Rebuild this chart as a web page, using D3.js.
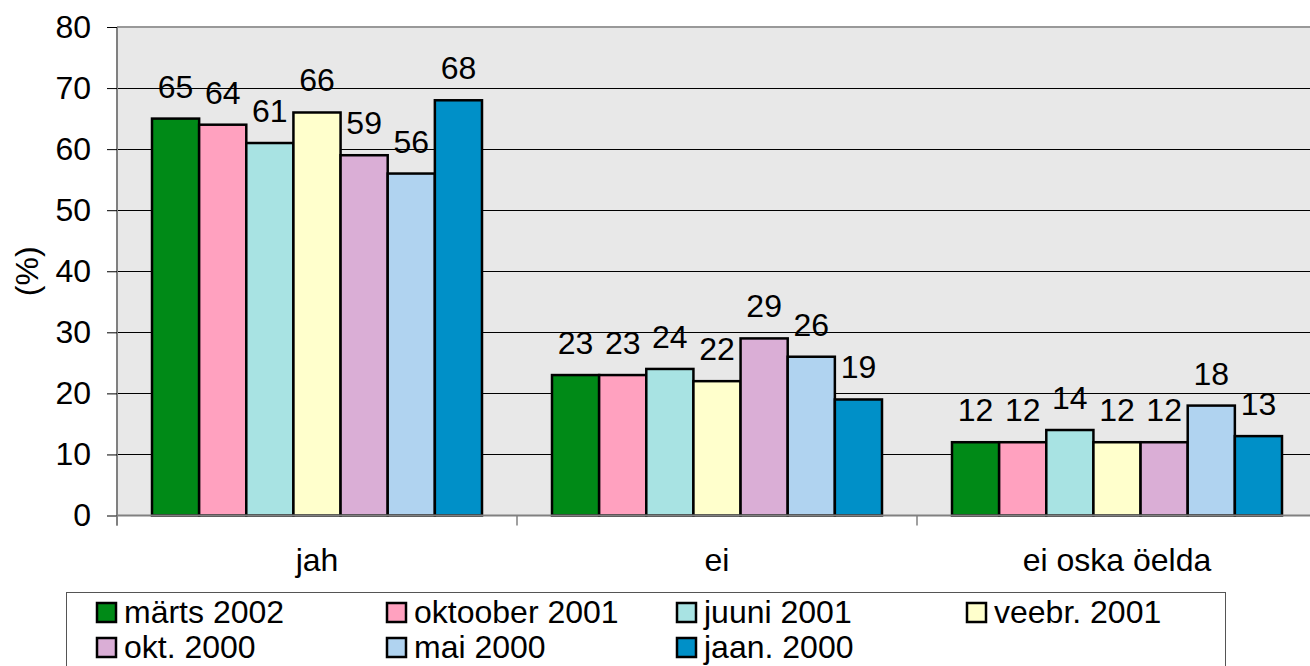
<!DOCTYPE html>
<html>
<head>
<meta charset="utf-8">
<script src="https://cdn.jsdelivr.net/npm/d3@7"></script>
<style>
  html, body { margin: 0; padding: 0; background: #fff; }
  svg { display: block; font-family: "Liberation Sans", Arial, sans-serif; }
</style>
</head>
<body>
<svg id="chart" width="1310" height="666"></svg>
<script>
const categories = ["jah", "ei", "ei oska öelda"];
const seriesNames = ["märts 2002", "oktoober 2001", "juuni 2001", "veebr. 2001", "okt. 2000", "mai 2000", "jaan. 2000"];
const seriesColors = ["#008A17", "#FFA1BF", "#A8E3E3", "#FFFFCC", "#DAAED6", "#B0D3F0", "#0090C8"];
const values = [
  [65, 23, 12],
  [64, 23, 12],
  [61, 24, 14],
  [66, 22, 12],
  [59, 29, 12],
  [56, 26, 18],
  [68, 19, 13]
];
const yTicks = [0, 10, 20, 30, 40, 50, 60, 70, 80];
const yTitle = "(%)";

const svg = d3.select("#chart");
const plotLeft = 117, plotTop = 27, plotBottom = 515.5, catW = 400;
const plotRight = plotLeft + catW * categories.length;
const FS = 32;

const x0 = d3.scaleBand().domain(categories).range([plotLeft, plotRight]).padding(0);
const x1 = d3.scaleBand().domain(seriesNames).range([35, catW - 35]).padding(0);
const y = d3.scaleLinear().domain([0, 80]).range([plotBottom, plotTop]);

svg.append("rect")
  .attr("x", plotLeft).attr("y", plotTop)
  .attr("width", plotRight - plotLeft).attr("height", plotBottom - plotTop)
  .attr("fill", "#E8E8E8");

svg.append("g").selectAll("line")
  .data(yTicks.filter(d => d > 0 && d < 80))
  .join("line")
  .attr("x1", plotLeft).attr("x2", plotRight)
  .attr("y1", d => Math.round(y(d)) + 0.5).attr("y2", d => Math.round(y(d)) + 0.5)
  .attr("stroke", "#000").attr("stroke-width", 1);

svg.append("line")
  .attr("x1", plotLeft).attr("x2", plotRight)
  .attr("y1", y(80)).attr("y2", y(80))
  .attr("stroke", "#999").attr("stroke-width", 2);

const groups = svg.append("g").selectAll("g")
  .data(categories)
  .join("g")
  .attr("transform", c => `translate(${x0(c)},0)`);

groups.selectAll("rect")
  .data((c, ci) => seriesNames.map((s, si) => ({ s, si, v: values[si][ci] })))
  .join("rect")
  .attr("x", d => x1(d.s))
  .attr("y", d => y(d.v))
  .attr("width", x1.bandwidth())
  .attr("height", d => y(0) - y(d.v))
  .attr("fill", d => seriesColors[d.si])
  .attr("stroke", "#000").attr("stroke-width", 2.5);

groups.selectAll("text")
  .data((c, ci) => seriesNames.map((s, si) => ({ s, si, v: values[si][ci] })))
  .join("text")
  .attr("x", d => x1(d.s) + x1.bandwidth() / 2)
  .attr("y", d => y(d.v) - 21)
  .attr("text-anchor", "middle")
  .attr("font-size", FS)
  .attr("fill", "#000")
  .text(d => d.v);

const yAxis = d3.axisLeft(y).tickValues(yTicks).tickSize(10).tickPadding(16);
const gy = svg.append("g").attr("transform", `translate(${plotLeft},0)`).call(yAxis);
gy.select(".domain").attr("stroke", "#808080").attr("stroke-width", 2).attr("d", `M0,${plotTop}V${plotBottom + 10}`);
gy.selectAll(".tick line").attr("stroke", "#000").attr("stroke-width", 1);
gy.selectAll(".tick text").attr("font-size", FS).attr("fill", "#000").attr("font-family", "Liberation Sans, Arial, sans-serif");

const xAxis = d3.axisBottom(x0).tickSize(0).tickPadding(33);
const gx = svg.append("g").attr("transform", `translate(0,${plotBottom})`).call(xAxis);
gx.select(".domain").attr("stroke", "#808080").attr("stroke-width", 2).attr("d", `M${plotLeft},0H${plotRight}`);
gx.selectAll(".tick text").attr("font-size", FS).attr("fill", "#000").attr("font-family", "Liberation Sans, Arial, sans-serif");
svg.append("g").selectAll("line")
  .data(categories)
  .join("line")
  .attr("x1", c => x0(c)).attr("x2", c => x0(c))
  .attr("y1", plotBottom).attr("y2", plotBottom + 10)
  .attr("stroke", "#808080").attr("stroke-width", 1.5);

svg.append("text")
  .attr("transform", `translate(27,${(plotTop + plotBottom) / 2}) rotate(-90)`)
  .attr("text-anchor", "middle")
  .attr("dominant-baseline", "central")
  .attr("font-size", FS)
  .text(yTitle);

const legX = 66, legY = 592, legW = 1159;
svg.append("rect")
  .attr("x", legX + 0.5).attr("y", legY + 0.5)
  .attr("width", legW).attr("height", 100)
  .attr("fill", "#fff").attr("stroke", "#555").attr("stroke-width", 1);

const items = svg.append("g").selectAll("g")
  .data(seriesNames)
  .join("g")
  .attr("transform", (d, i) => `translate(${97 + (i % 4) * 290},${603 + Math.floor(i / 4) * 35})`);
items.append("rect")
  .attr("x", 0).attr("y", 0).attr("width", 19).attr("height", 19)
  .attr("fill", (d, i) => seriesColors[i])
  .attr("stroke", "#000").attr("stroke-width", 2.5);
items.append("text")
  .attr("x", 27).attr("y", 9.5)
  .attr("dy", "0.33em")
  .attr("font-size", FS)
  .text(d => d);
</script>
</body>
</html>
